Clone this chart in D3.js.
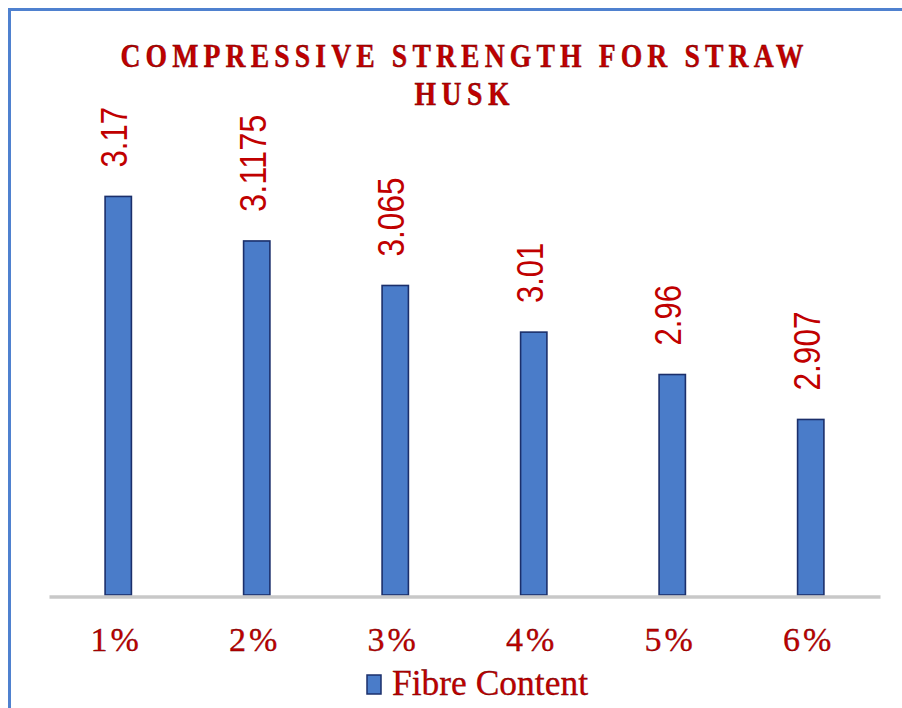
<!DOCTYPE html>
<html>
<head>
<meta charset="utf-8">
<script src="https://cdn.jsdelivr.net/npm/d3@7/dist/d3.min.js"></script>
<style>
  html, body { margin: 0; padding: 0; background: #fff; }
  svg { display: block; }
</style>
</head>
<body>
<script>
// Compressive strength by fibre content (straw husk)
const categories = ["1%", "2%", "3%", "4%", "5%", "6%"];
const strength = [3.17, 3.1175, 3.065, 3.01, 2.96, 2.907];
const valueLabels = ["3.17", "3.1175", "3.065", "3.01", "2.96", "2.907"];
const titleLines = ["COMPRESSIVE STRENGTH FOR STRAW", "HUSK"];
const seriesName = "Fibre Content";

const W = 902, H = 708;
const red = "#c00000";

const svg = d3.select("body").append("svg")
  .attr("width", W).attr("height", H);

svg.append("rect").attr("width", W).attr("height", H).attr("fill", "#fff");

// chart frame (only top/left edges fall inside the view)
svg.append("rect")
  .attr("x", 9.5).attr("y", 9.5)
  .attr("width", W + 20).attr("height", H + 20)
  .attr("fill", "none")
  .attr("stroke", "#4f81cf")
  .attr("stroke-width", 3);

const plot = { left: 49, right: 880, top: 171, bottom: 595 };

const x = d3.scaleBand()
  .domain(categories)
  .range([plot.left, plot.right])
  .paddingInner(0.81)
  .paddingOuter(0.405);

const y = d3.scaleLinear()
  .domain([2.7, 3.2])
  .range([plot.bottom, plot.top]);

// title: condensed, letter-spaced serif caps
const sx = 0.84;
const title = svg.append("g")
  .attr("transform", `scale(${sx},1)`)
  .attr("font-family", "'Liberation Serif', 'Times New Roman', serif")
  .attr("font-weight", "bold")
  .attr("font-size", 33)
  .attr("fill", red)
  .attr("stroke", "#5a0000")
  .attr("stroke-width", 0.4)
  .attr("text-anchor", "middle");
title.append("text")
  .attr("x", 462 / sx).attr("y", 67)
  .attr("textLength", 683 / sx).attr("lengthAdjust", "spacing")
  .text(titleLines[0]);
title.append("text")
  .attr("x", 462 / sx).attr("y", 105)
  .attr("textLength", 95 / sx).attr("lengthAdjust", "spacing")
  .text(titleLines[1]);

// bars
svg.append("g").selectAll("rect")
  .data(strength)
  .join("rect")
  .attr("x", (d, i) => x(categories[i]))
  .attr("y", d => y(d))
  .attr("width", x.bandwidth())
  .attr("height", d => y(y.domain()[0]) - y(d))
  .attr("fill", "#4a7cc9")
  .attr("stroke", "#1b2f6b")
  .attr("stroke-width", 1.6);

// baseline axis
const xAxis = svg.append("g")
  .attr("transform", `translate(0,${plot.bottom + 1.5})`)
  .call(d3.axisBottom(x).tickSize(0).tickPadding(30));
xAxis.select(".domain")
  .attr("stroke", "#c8c8c8")
  .attr("stroke-width", 3.5);
xAxis.selectAll(".tick text")
  .attr("font-family", "'Liberation Serif', 'Times New Roman', serif")
  .attr("font-size", 34)
  .attr("fill", red)
  .attr("stroke", "#5a0000")
  .attr("stroke-width", 0.3)
  .attr("letter-spacing", 3)
  .attr("dy", "0.71em")
  .attr("dx", "-2");

// rotated value labels (condensed)
const labelLen = s => s.replace(".", "").length * 18.5 + 5;
svg.append("g").selectAll("text")
  .data(strength)
  .join("text")
  .attr("transform", (d, i) =>
    `translate(${x(categories[i]) + x.bandwidth() / 2 + 9},${y(d) - 29}) rotate(-90)`)
  .attr("font-family", "'Liberation Sans Narrow', 'Arial Narrow', 'Liberation Sans', sans-serif")
  .attr("font-size", 36)
  .attr("fill", red)
  .attr("text-anchor", "start")
  .attr("textLength", (d, i) => labelLen(valueLabels[i]))
  .attr("lengthAdjust", "spacingAndGlyphs")
  .text((d, i) => valueLabels[i]);

// legend
const legend = svg.append("g");
legend.append("rect")
  .attr("x", 367).attr("y", 675)
  .attr("width", 14).attr("height", 19)
  .attr("fill", "#4a7cc9")
  .attr("stroke", "#1b2f6b")
  .attr("stroke-width", 1.5);
legend.append("text")
  .attr("x", 392).attr("y", 695)
  .attr("font-family", "'Liberation Serif', 'Times New Roman', serif")
  .attr("font-size", 35)
  .attr("fill", red)
  .attr("stroke", "#5a0000")
  .attr("stroke-width", 0.3)
  .attr("textLength", 196).attr("lengthAdjust", "spacingAndGlyphs")
  .text(seriesName);
</script>
</body>
</html>
